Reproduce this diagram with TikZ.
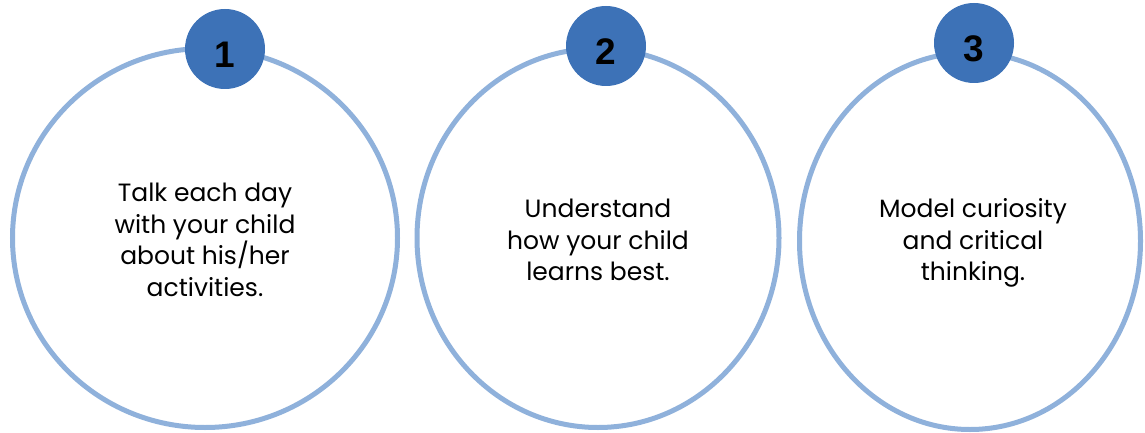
\documentclass[tikz,border=0pt]{standalone}
\usepackage{fontspec}
\setmainfont{Poppins}
\newfontfamily\numfont{Liberation Sans}
\usetikzlibrary{shapes.geometric}
\definecolor{ringblue}{HTML}{8FB1DB}
\definecolor{badgeblue}{HTML}{3D72B7}
\tikzset{
  ring/.style={ellipse, draw=ringblue, line width=5pt, inner sep=0pt, fill=white},
  badge/.style={circle, fill=badgeblue, minimum size=80pt, inner sep=0pt},
  num/.style={font=\numfont\bfseries\fontsize{37}{37}\selectfont, text=black, inner sep=0pt},
  body/.style={align=center, font=\fontsize{25}{31.5}\selectfont, text=black, inner sep=0pt}
}
\begin{document}
\begin{tikzpicture}[x=1pt,y=-1pt]
\useasboundingbox (0,0) rectangle (1145,433);
\node[ring, minimum width=385pt, minimum height=379pt] (c1) at (205,238) {};
\node[ring, minimum width=362pt, minimum height=379pt] (c2) at (598,238) {};
\node[ring, minimum width=341pt, minimum height=377pt] (c3) at (970,241) {};
\node[badge] (b1) at (225,49) {};
\node[badge] (b2) at (606,46) {};
\node[badge] (b3) at (974,43) {};
\node[num] (n1) at (225,55) {1};
\node[num] (n2) at (606,52) {2};
\node[num] (n3) at (974,49) {3};
\node[body] (t1) at (205,240) {Talk each day\\with your child\\about his/her\\activities.};
\node[body] (t2) at (598,240) {Understand\\how your child\\learns best.};
\node[body] (t3) at (973,243) {Model curiosity\\and critical\\thinking.};
\end{tikzpicture}
\end{document}
